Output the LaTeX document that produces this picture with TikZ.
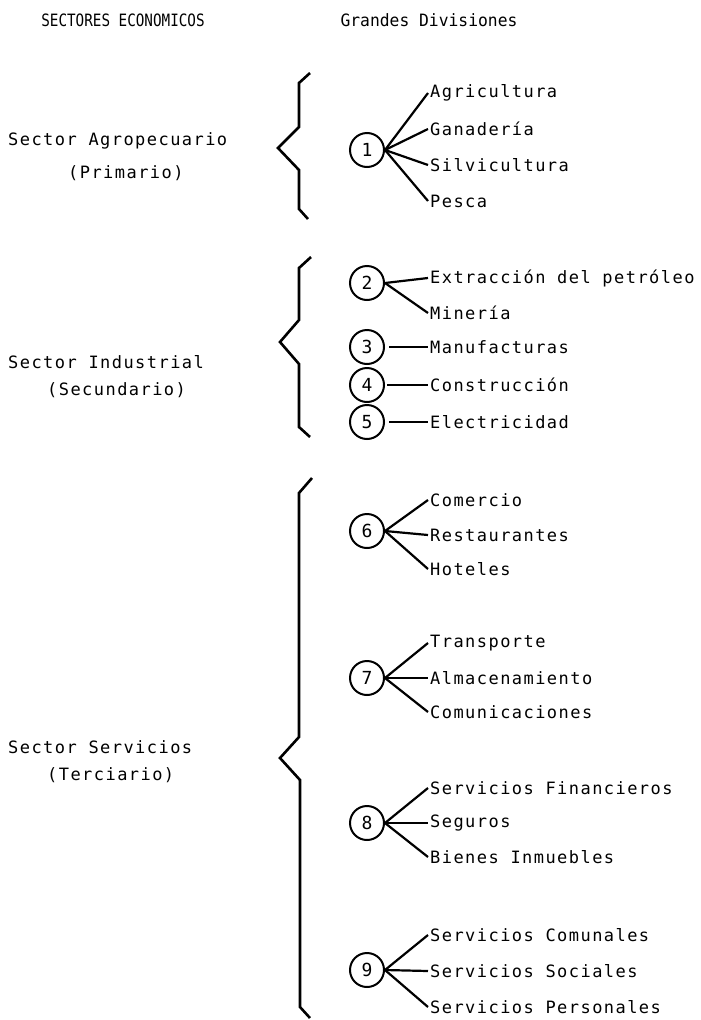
\documentclass[tikz,border=0pt]{standalone}
\usepackage{fontspec}
\newfontfamily\typer[LetterSpace=8.5]{DejaVu Sans Mono}
\newfontfamily\typehead{DejaVu Sans Mono}
\usepackage{tikz}
\usetikzlibrary{positioning}

\begin{document}
\begin{tikzpicture}[x=1pt, y=-1pt,
    num/.style={draw, circle, line width=2pt, minimum size=34pt, inner sep=0pt,
      font=\fontsize{18}{20}\selectfont\typehead},
    div/.style={anchor=west, inner sep=2pt, font=\fontsize{17}{20}\selectfont\typer},
    sector/.style={anchor=west, inner sep=0pt, font=\fontsize{17}{20}\selectfont\typer},
    head/.style={font=\fontsize{17}{20}\selectfont\typehead},
    spoke/.style={line width=2.2pt},
    brace/.style={line width=2.6pt, line join=miter}]
    \useasboundingbox (0,0) rectangle (701,1020);

    % Headings
    \node[head] (hsec) at (123,20) {\scalebox{0.84}[1]{SECTORES ECONOMICOS}};
    \node[head] (hdiv) at (429,20) {\scalebox{0.96}[1]{Grandes Divisiones}};

    % Primario
    \node[sector] (agro) at (8,141) {Sector Agropecuario};
    \node[sector] (prim) at (68,173) {(Primario)};
    \draw[brace] (310,73) -- (299,83) -- (299,127) -- (278,148) -- (299,170) -- (299,209) -- (308,219);
    \node[num] (c1) at (367,150) {1};
    \node[div] (agri) at (428,93) {Agricultura};
    \node[div] (gana) at (428,129) {Ganadería};
    \node[div] (silv) at (428,165) {Silvicultura};
    \node[div] (pesc) at (428,201) {Pesca};
    \draw[spoke] (c1.east) -- (agri.west);
    \draw[spoke] (c1.east) -- (gana.west);
    \draw[spoke] (c1.east) -- (silv.west);
    \draw[spoke] (c1.east) -- (pesc.west);

    % Secundario
    \node[sector] (indu) at (8,362) {Sector Industrial};
    \node[sector] (secu) at (47,390) {(Secundario)};
    \draw[brace] (311,257) -- (299,268) -- (299,320) -- (280,342) -- (299,364) -- (299,427) -- (310,437);
    \node[num] (c2) at (367,283) {2};
    \node[num] (c3) at (367,347) {3};
    \node[num] (c4) at (367,385) {4};
    \node[num] (c5) at (367,422) {5};
    \node[div] (extr) at (428,278) {Extracción del petróleo};
    \node[div] (mine) at (428,313) {Minería};
    \node[div] (manu) at (428,347) {Manufacturas};
    \node[div] (cons) at (428,385) {Construcción};
    \node[div] (elec) at (428,422) {Electricidad};
    \draw[spoke] (c2.east) -- (extr.west);
    \draw[spoke] (c2.east) -- (mine.west);
    \draw[spoke] ([xshift=4pt]c3.east) -- (manu.west);
    \draw[spoke] ([xshift=2pt]c4.east) -- (cons.west);
    \draw[spoke] ([xshift=4pt]c5.east) -- (elec.west);

    % Terciario
    \node[sector] (serv) at (8,747) {Sector Servicios};
    \node[sector] (terc) at (47,775) {(Terciario)};
    \draw[brace] (312,478) -- (299,493) -- (299,737) -- (280,758) -- (300,780) -- (300,1007) -- (310,1018);
    \node[num] (c6) at (367,531) {6};
    \node[div] (come) at (428,500) {Comercio};
    \node[div] (rest) at (428,535) {Restaurantes};
    \node[div] (hote) at (428,569) {Hoteles};
    \draw[spoke] (c6.east) -- (come.west);
    \draw[spoke] (c6.east) -- (rest.west);
    \draw[spoke] (c6.east) -- (hote.west);

    \node[num] (c7) at (367,678) {7};
    \node[div] (tran) at (428,643) {Transporte};
    \node[div] (alma) at (428,678) {Almacenamiento};
    \node[div] (comu) at (428,712) {Comunicaciones};
    \draw[spoke] (c7.east) -- (tran.west);
    \draw[spoke] (c7.east) -- (alma.west);
    \draw[spoke] (c7.east) -- (comu.west);

    \node[num] (c8) at (367,823) {8};
    \node[div] (fina) at (428,788) {Servicios Financieros};
    \node[div] (segu) at (428,823) {Seguros};
    \node[div] (bien) at (428,857) {Bienes Inmuebles};
    \draw[spoke] (c8.east) -- (fina.west);
    \draw[spoke] (c8.east) -- (segu.west);
    \draw[spoke] (c8.east) -- (bien.west);

    \node[num] (c9) at (367,970) {9};
    \node[div] (cmnl) at (428,935) {Servicios Comunales};
    \node[div] (soci) at (428,971) {Servicios Sociales};
    \node[div] (pers) at (428,1007) {Servicios Personales};
    \draw[spoke] (c9.east) -- (cmnl.west);
    \draw[spoke] (c9.east) -- (soci.west);
    \draw[spoke] (c9.east) -- (pers.west);
  \end{tikzpicture}
\end{document}
